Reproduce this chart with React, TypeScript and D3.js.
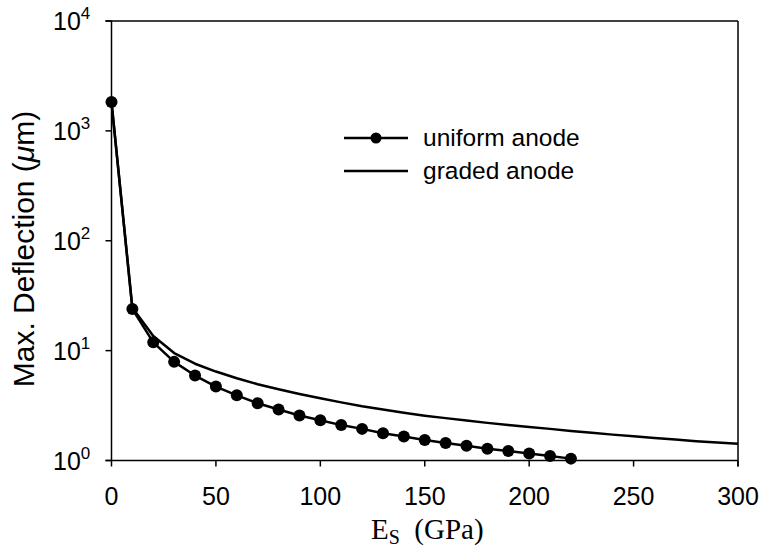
import React from "react";
import * as d3 from "d3";

const xTicks = [0, 50, 100, 150, 200, 250, 300];
const yTickExps = [0, 1, 2, 3, 4];

const uniformX = [0, 10, 20, 30, 40, 50, 60, 70, 80, 90, 100, 110, 120, 130, 140, 150, 160, 170, 180, 190, 200, 210, 220];
const uniformY = [1830, 23.9, 11.9, 7.9, 5.93, 4.71, 3.92, 3.32, 2.91, 2.57, 2.32, 2.1, 1.94, 1.77, 1.65, 1.54, 1.44, 1.36, 1.28, 1.22, 1.16, 1.1, 1.04];

const gradedX = [0, 10, 20, 30, 40, 50, 60, 70, 80, 90, 100, 110, 120, 130, 140, 150, 160, 170, 180, 190, 200, 210, 220, 230, 240, 250, 260, 270, 280, 290, 300];
const gradedY = [1830, 24.5, 13.6, 9.5, 7.6, 6.45, 5.6, 4.95, 4.45, 4.03, 3.68, 3.38, 3.12, 2.91, 2.72, 2.56, 2.43, 2.31, 2.2, 2.1, 2.02, 1.94, 1.86, 1.79, 1.72, 1.66, 1.6, 1.55, 1.5, 1.46, 1.42];

const legendLabels = ["uniform anode", "graded anode"];

const W = 762;
const H = 557;
const L = 111.5, R = 738, T = 21, B = 460.5;

export default function App() {
  const x = d3.scaleLinear().domain([0, 300]).range([L, R]);
  const y = d3.scaleLog().domain([1, 10000]).range([B, T]);
  const uni = uniformX.map((v, i) => [x(v), y(uniformY[i])] as [number, number]);
  const gra = gradedX.map((v, i) => [x(v), y(gradedY[i])] as [number, number]);
  const lineLin = d3.line().curve(d3.curveLinear);
  const font = "Arial, 'Liberation Sans', Helvetica, sans-serif";
  return (
    <svg width={W} height={H} style={{ position: "absolute", left: 0, top: 0 }}>
      <rect x={0} y={0} width={W} height={H} fill="#fff" />
      {/* frame */}
      <line x1={L} x2={L} y1={T} y2={B} stroke="#000" strokeWidth={1.5} />
      <line x1={L - 6} x2={R} y1={T} y2={T} stroke="#000" strokeWidth={1.5} />
      <line x1={R} x2={R} y1={T} y2={B + 6} stroke="#000" strokeWidth={1.5} />
      <line x1={L - 6} x2={R} y1={B} y2={B} stroke="#000" strokeWidth={1.5} />
      {xTicks.map((t) => (
        <g key={"x" + t}>
          <line x1={x(t)} x2={x(t)} y1={B} y2={B + 6} stroke="#000" strokeWidth={1.5} />
          <text x={x(t)} y={505} textAnchor="middle" fontFamily={font} fontSize={25}>
            {t}
          </text>
        </g>
      ))}
      {yTickExps.map((e) => (
        <g key={"y" + e}>
          <line x1={L - 6} x2={L} y1={y(Math.pow(10, e))} y2={y(Math.pow(10, e))} stroke="#000" strokeWidth={1.5} />
          <text x={53} y={y(Math.pow(10, e)) + 9} fontFamily={font} fontSize={25}>
            10
            <tspan fontSize={17} dy={-11}>{e}</tspan>
          </text>
        </g>
      ))}
      {/* graded */}
      <path d={lineLin(gra) || ""} fill="none" stroke="#000" strokeWidth={2.5} strokeLinejoin="round" />
      {/* uniform */}
      <path d={lineLin(uni) || ""} fill="none" stroke="#000" strokeWidth={2.5} strokeLinejoin="round" />
      {uni.map((p, i) => (
        <circle key={i} cx={p[0]} cy={p[1]} r={6} fill="#000" />
      ))}
      {/* legend */}
      <line x1={344} x2={408} y1={138} y2={138} stroke="#000" strokeWidth={2.5} />
      <circle cx={376} cy={138} r={5.5} fill="#000" />
      <line x1={344} x2={408} y1={171} y2={171} stroke="#000" strokeWidth={2.5} />
      <text x={423} y={146} fontFamily={font} fontSize={24.5}>{legendLabels[0]}</text>
      <text x={423} y={179} fontFamily={font} fontSize={24.5}>{legendLabels[1]}</text>
      {/* axis titles */}
      <text transform="translate(34,249) rotate(-90)" textAnchor="middle" fontFamily={font} fontSize={30}>
        Max. Deflection (<tspan fontStyle="italic">μ</tspan>m)
      </text>
      <text x={371} y={539} fontFamily="'Times New Roman', 'Liberation Serif', serif" fontSize={29}>
        E<tspan fontSize={20} dy={5}>S</tspan>
        <tspan dy={-5}>{"\u00a0\u00a0(GPa)"}</tspan>
      </text>
    </svg>
  );
}
